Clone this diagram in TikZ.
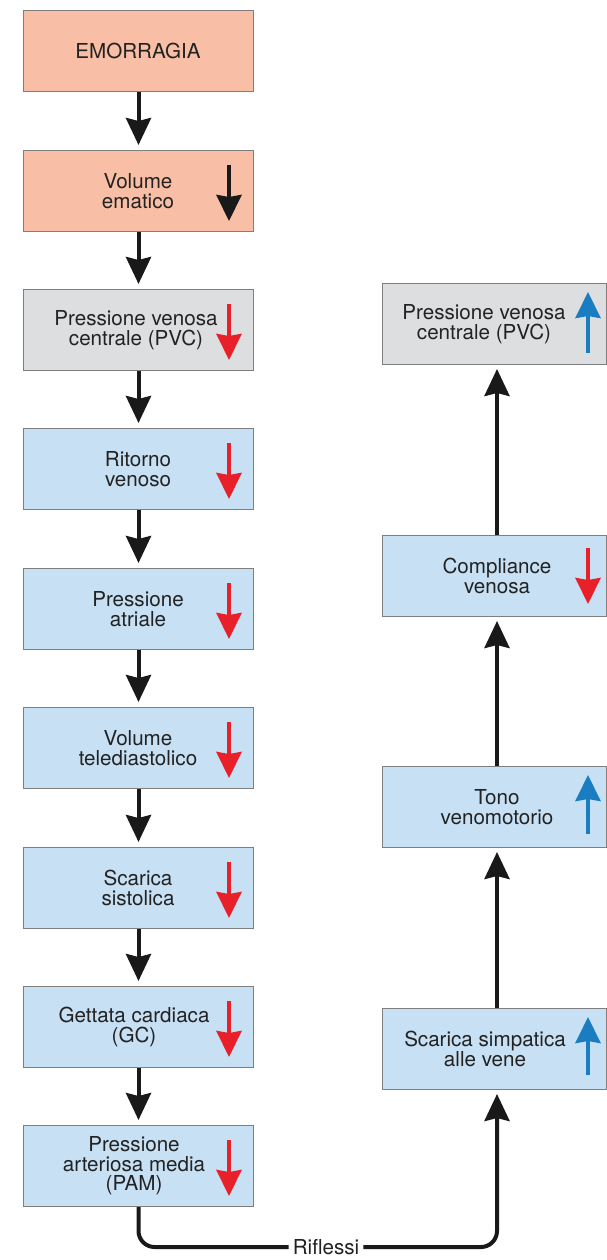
\documentclass[tikz,border=0pt]{standalone}
\usepackage{fontspec}
\setmainfont{TeX Gyre Heros}
\usetikzlibrary{arrows.meta,calc}
\definecolor{salmon}{HTML}{F8BFA6}
\definecolor{grayfill}{HTML}{DDDEDF}
\definecolor{bluefill}{HTML}{C7E0F4}
\definecolor{boxline}{HTML}{7F7F7F}
\definecolor{txt}{HTML}{222222}
\definecolor{downred}{HTML}{E8202A}
\definecolor{upblue}{HTML}{1A7DC2}
\begin{document}
\begin{tikzpicture}[x=1pt,y=-1pt,
  lbox/.style={draw=boxline, line width=1pt, minimum width=230pt, minimum height=81pt, inner sep=0pt, anchor=north west},
  rbox/.style={draw=boxline, line width=1pt, minimum width=224pt, minimum height=81pt, inner sep=0pt, anchor=north west},
  lbl/.style={text=txt, align=center, inner sep=0pt, font=\fontsize{20.6}{19.5}\selectfont},
  conn/.style={line width=4pt, black!90, -{Stealth[length=27pt,width=25pt,inset=3pt]}},
  plainconn/.style={line width=4pt, black!90, rounded corners=16pt},
  ind/.style={line width=4pt, -{Stealth[length=26pt,width=25pt,inset=2pt]}}
]
\useasboundingbox (0,0) rectangle (607,1260);

% left column
\node[lbox, fill=salmon]   (b0) at (23,10) {};
\node[lbox, fill=salmon]   (b1) at (23,150) {};
\node[lbox, fill=grayfill] (b2) at (23,289) {};
\node[lbox, fill=bluefill] (b3) at (23,428) {};
\node[lbox, fill=bluefill] (b4) at (23,568) {};
\node[lbox, fill=bluefill] (b5) at (23,707) {};
\node[lbox, fill=bluefill] (b6) at (23,847) {};
\node[lbox, fill=bluefill] (b7) at (23,986) {};
\node[lbox, fill=bluefill] (b8) at (23,1125) {};

% right column
\node[rbox, fill=grayfill] (r0) at (382,283) {};
\node[rbox, fill=bluefill] (r1) at (382,535) {};
\node[rbox, fill=bluefill] (r2) at (382,766) {};
\node[rbox, fill=bluefill] (r3) at (382,1008) {};

% texts
\node[lbl] (t0) at (138,51) {EMORRAGIA};
\node[lbl] (t1) at (138,191) {Volume\\ematico};
\node[lbl] (t2) at (136,330) {Pressione venosa\\centrale (PVC)};
\node[lbl] (t3) at (138,469) {Ritorno\\venoso};
\node[lbl] (t4) at (138,609) {Pressione\\atriale};
\node[lbl] (t5) at (138,748) {Volume\\telediastolico};
\node[lbl] (t6) at (138,888) {Scarica\\sistolica};
\node[lbl] (t7) at (134,1027) {Gettata cardiaca\\(GC)};
\node[lbl] (t8) at (134,1166) {Pressione\\arteriosa media\\(PAM)};

\node[lbl] (s0) at (484,324) {Pressione venosa\\centrale (PVC)};
\node[lbl] (s1) at (497,576) {Compliance\\venosa};
\node[lbl] (s2) at (497,807) {Tono\\venomotorio};
\node[lbl] (s3) at (485,1049) {Scarica simpatica\\alle vene};

% indicator arrows, left
\draw[ind, black!90] ($(b1.north west)+(206,15)$) -- ($(b1.south west)+(206,-11)$);
\foreach \b in {b2,b3,b4,b5,b6,b7,b8}{
  \draw[ind, downred] ($(\b.north west)+(206,15)$) -- ($(\b.south west)+(206,-11)$);
}
% indicator arrows, right
\draw[ind, upblue] ($(r0.south west)+(206,-12)$) -- ($(r0.north west)+(206,9)$);
\draw[ind, downred] ($(r1.north west)+(206,13)$) -- ($(r1.south west)+(206,-13)$);
\draw[ind, upblue] ($(r2.south west)+(206,-14)$) -- ($(r2.north west)+(206,9)$);
\draw[ind, upblue] ($(r3.south west)+(206,-15)$) -- ($(r3.north west)+(206,9)$);

% main connectors, left
\foreach \a/\c in {b0/b1,b1/b2,b2/b3,b3/b4,b4/b5,b5/b6,b6/b7,b7/b8}{
  \draw[conn, shorten >=5pt] (\a.south) -- (\c.north);
}
% right connectors
\draw[conn, shorten >=4pt] ($(r3.north west)+(115,0)$) -- ($(r2.south west)+(115,0)$);
\draw[conn, shorten >=4pt] ($(r2.north west)+(115,0)$) -- ($(r1.south west)+(115,0)$);
\draw[conn, shorten >=4pt] ($(r1.north west)+(115,0)$) -- ($(r0.south west)+(115,0)$);

% reflex loop
\node[lbl, fill=white, inner xsep=4pt, inner ysep=0pt] (rif) at (326,1247) {Riflessi};
\draw[plainconn] (b8.south) |- (rif.west);
\draw[plainconn, -{Stealth[length=27pt,width=25pt,inset=3pt]}, shorten >=4pt] (rif.east) -| ($(r3.south west)+(115,0)$);
\end{tikzpicture}
\end{document}
